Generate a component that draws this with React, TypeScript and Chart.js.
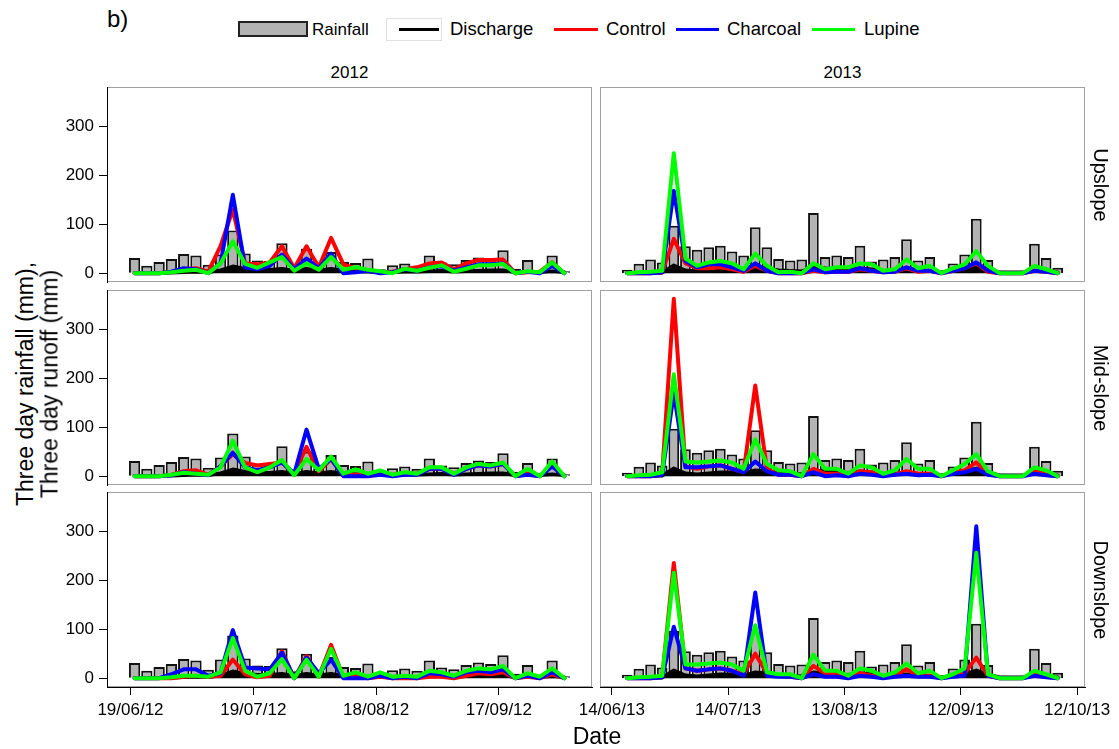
import React, { useEffect, useRef } from "react";
import { Chart, registerables } from "chart.js";
Chart.register(...registerables);

// ---------- data ----------
const dates2012 = [
  "2012-06-20", "2012-06-23", "2012-06-26", "2012-06-29", "2012-07-02", "2012-07-05", "2012-07-08", "2012-07-11",
  "2012-07-14", "2012-07-17", "2012-07-20", "2012-07-23", "2012-07-26", "2012-07-29", "2012-08-01", "2012-08-04",
  "2012-08-07", "2012-08-10", "2012-08-13", "2012-08-16", "2012-08-19", "2012-08-22", "2012-08-25", "2012-08-28",
  "2012-08-31", "2012-09-03", "2012-09-06", "2012-09-09", "2012-09-12", "2012-09-15", "2012-09-18", "2012-09-21",
  "2012-09-24", "2012-09-27", "2012-09-30", "2012-10-03",
];
const dates2013 = [
  "2013-06-18", "2013-06-21", "2013-06-24", "2013-06-27", "2013-06-30", "2013-07-03", "2013-07-06", "2013-07-09",
  "2013-07-12", "2013-07-15", "2013-07-18", "2013-07-21", "2013-07-24", "2013-07-27", "2013-07-30", "2013-08-02",
  "2013-08-05", "2013-08-08", "2013-08-11", "2013-08-14", "2013-08-17", "2013-08-20", "2013-08-23", "2013-08-26",
  "2013-08-29", "2013-09-01", "2013-09-04", "2013-09-07", "2013-09-10", "2013-09-13", "2013-09-16", "2013-09-19",
  "2013-09-22", "2013-09-25", "2013-09-28", "2013-10-01", "2013-10-04", "2013-10-07",
];

const rain2012 = [31, 15, 23, 29, 39, 36, 17, 38, 87, 40, 26, 25, 61, 14, 50, 16, 43, 23, 21, 30, 8, 16, 20, 15, 36, 22, 18, 27, 32, 29, 47, 9, 27, 6, 36, 4];
const rain2013 = [7, 19, 28, 22, 97, 55, 48, 53, 56, 44, 36, 94, 53, 29, 26, 28, 123, 33, 36, 33, 56, 24, 28, 33, 69, 26, 33, 5, 20, 38, 111, 27, 5, 4, 4, 60, 31, 11];

const discharge2012 = [0, 0, 0, 1, 2, 3, 2, 6, 14, 9, 7, 7, 9, 5, 9, 6, 9, 5, 4, 3, 2, 2, 3, 3, 4, 5, 3, 4, 5, 6, 6, 2, 2, 2, 4, 2];
const discharge2013 = [0, 0, 0, 1, 16, 6, 4, 6, 8, 8, 5, 12, 10, 6, 5, 4, 12, 10, 8, 7, 10, 8, 5, 5, 8, 5, 5, 2, 5, 8, 16, 8, 2, 2, 2, 5, 3, 2];

const control2012Up = [0, 0, 0, 3, 8, 10, 3, 55, 130, 20, 18, 22, 55, 10, 55, 12, 72, 18, 10, 5, 2, 3, 8, 12, 20, 22, 8, 20, 27, 27, 28, 0, 2, 3, 22, 0];
const charcoal2012Up = [0, 0, 0, 3, 10, 8, 0, 20, 160, 12, 8, 15, 38, 8, 30, 10, 40, 0, 2, 5, 0, 2, 8, 5, 12, 14, 5, 12, 18, 18, 20, 0, 3, 0, 15, 0];
const lupine2012Up = [0, 0, 0, 2, 5, 7, 0, 20, 65, 19, 11, 22, 33, 5, 20, 7, 33, 7, 12, 7, 4, 0, 9, 5, 11, 16, 3, 9, 16, 16, 19, 0, 4, 2, 22, 0];

const control2012Mid = [0, 0, 0, 3, 10, 12, 3, 20, 45, 27, 22, 25, 28, 5, 60, 10, 35, 2, 3, 3, 3, 3, 5, 5, 15, 15, 5, 15, 22, 20, 25, 0, 5, 0, 22, 0];
const charcoal2012Mid = [0, 0, 0, 2, 8, 5, 2, 20, 48, 18, 12, 18, 28, 5, 95, 15, 35, 0, 0, 0, 3, 0, 3, 3, 15, 15, 3, 15, 22, 20, 25, 0, 3, 0, 20, 0];
const lupine2012Mid = [0, 0, 0, 3, 7, 5, 3, 18, 72, 18, 8, 18, 33, 2, 35, 12, 40, 5, 14, 5, 12, 3, 8, 5, 18, 18, 5, 18, 25, 22, 28, 0, 15, 0, 30, 0];

const control2012Down = [0, 0, 0, 0, 3, 5, 3, 5, 38, 8, 2, 5, 55, 0, 45, 3, 68, 2, 5, 0, 3, 0, 0, 0, 3, 3, 0, 5, 10, 8, 12, 0, 3, 0, 8, 0];
const charcoal2012Down = [0, 0, 0, 8, 18, 18, 5, 10, 98, 22, 20, 18, 52, 0, 42, 10, 38, 0, 0, 0, 5, 0, 3, 0, 10, 8, 3, 12, 15, 12, 18, 0, 5, 0, 12, 0];
const lupine2012Down = [0, 0, 0, 2, 5, 5, 3, 12, 82, 15, 3, 10, 39, 0, 38, 3, 60, 5, 12, 3, 12, 3, 5, 3, 15, 12, 5, 15, 20, 18, 25, 0, 10, 3, 20, 0];

const control2013Up = [0, 0, 0, 2, 70, 20, 10, 10, 12, 8, 3, 15, 5, 0, 0, 0, 5, 2, 3, 3, 8, 5, 2, 3, 10, 3, 5, 0, 5, 10, 20, 3, 0, 0, 0, 5, 3, 0];
const charcoal2013Up = [0, 0, 0, 2, 168, 25, 12, 18, 18, 12, 5, 20, 5, 0, 0, 0, 8, 2, 3, 3, 10, 5, 2, 3, 12, 5, 5, 0, 5, 10, 22, 5, 0, 0, 0, 5, 3, 0];
const lupine2013Up = [0, 2, 3, 5, 245, 30, 15, 22, 25, 20, 8, 40, 15, 2, 3, 0, 20, 8, 12, 12, 20, 18, 5, 8, 28, 10, 15, 0, 10, 18, 45, 15, 0, 0, 0, 15, 8, 0];

const control2013Mid = [0, 0, 0, 5, 362, 20, 15, 20, 22, 15, 8, 185, 15, 3, 3, 0, 15, 5, 5, 0, 10, 8, 3, 3, 10, 5, 5, 0, 8, 12, 28, 5, 0, 0, 0, 10, 3, 0];
const charcoal2013Mid = [0, 0, 0, 3, 170, 18, 18, 20, 22, 15, 8, 30, 10, 3, 3, 0, 8, 0, 2, 0, 5, 3, 0, 3, 5, 2, 3, 0, 5, 8, 15, 3, 0, 0, 0, 5, 2, 0];
const lupine2013Mid = [0, 2, 3, 8, 208, 30, 28, 30, 32, 28, 15, 75, 25, 12, 10, 0, 45, 15, 15, 5, 22, 18, 5, 12, 35, 15, 15, 0, 12, 25, 45, 10, 0, 0, 0, 18, 12, 0];

const control2013Down = [0, 0, 0, 3, 235, 20, 15, 18, 20, 15, 8, 50, 10, 5, 3, 0, 25, 10, 8, 3, 10, 5, 3, 5, 18, 5, 5, 0, 5, 10, 42, 5, 0, 0, 0, 8, 3, 0];
const charcoal2013Down = [0, 0, 0, 2, 105, 20, 15, 18, 20, 15, 5, 175, 5, 3, 3, 0, 8, 3, 3, 0, 5, 3, 0, 3, 5, 3, 3, 0, 3, 5, 310, 5, 0, 0, 0, 5, 2, 0];
const lupine2013Down = [0, 2, 3, 5, 215, 28, 28, 30, 32, 28, 15, 108, 12, 8, 8, 0, 48, 15, 15, 5, 20, 15, 5, 12, 30, 10, 15, 0, 8, 20, 256, 8, 0, 0, 0, 15, 8, 0];

const tickDates2012 = ["2012-06-19", "2012-07-19", "2012-08-18", "2012-09-17"];
const tickLabels2012 = ["19/06/12", "19/07/12", "18/08/12", "17/09/12"];
const tickDates2013 = ["2013-06-14", "2013-07-14", "2013-08-13", "2013-09-12", "2013-10-12"];
const tickLabels2013 = ["14/06/13", "14/07/13", "13/08/13", "12/09/13", "12/10/13"];
const yTicks = [0, 100, 200, 300];
const yRange = [-18, 380];
const years = ["2012", "2013"];
const slopes = ["Upslope", "Mid-slope", "Downslope"];

// ---------- helpers ----------
const dayNum = (s: string) => {
  const [y, m, d] = s.split("-").map(Number);
  return Date.UTC(y, m - 1, d) / 86400000;
};

const YEAR_DATA = [
  {
    dates: dates2012, rain: rain2012, discharge: discharge2012,
    ticks: tickDates2012, labels: tickLabels2012,
    series: [
      [control2012Up, charcoal2012Up, lupine2012Up],
      [control2012Mid, charcoal2012Mid, lupine2012Mid],
      [control2012Down, charcoal2012Down, lupine2012Down],
    ],
  },
  {
    dates: dates2013, rain: rain2013, discharge: discharge2013,
    ticks: tickDates2013, labels: tickLabels2013,
    series: [
      [control2013Up, charcoal2013Up, lupine2013Up],
      [control2013Mid, charcoal2013Mid, lupine2013Mid],
      [control2013Down, charcoal2013Down, lupine2013Down],
    ],
  },
];

// layout (pixels)
const COL_L = [107, 600];
const PANEL_W = 485;
const ROW_T = [87, 290, 492];
const PANEL_H = 195;
const PADL = 60, PADR = 40, PADT = 4, PADB = 40;
const FONT = '"Liberation Sans", Arial, sans-serif';

const panelBorder = {
  id: "panelBorder",
  beforeDraw(chart: any) {
    const { ctx, chartArea: a } = chart;
    ctx.save();
    ctx.strokeStyle = "#A0A0A0";
    ctx.lineWidth = 1;
    ctx.strokeRect(Math.round(a.left) + 0.5, Math.round(a.top) + 0.5, Math.round(a.width) - 1, Math.round(a.height) - 1);
    ctx.restore();
  },
};

function Panel({ col, row }: { col: number; row: number }) {
  const ref = useRef<HTMLCanvasElement | null>(null);
  const hasY = col === 0;
  const hasX = row === 2;
  const W = PANEL_W + PADL + PADR;
  const H = PANEL_H + PADT + PADB;
  useEffect(() => {
    const yd = YEAR_DATA[col];
    const [control, charcoal, lupine] = yd.series[row];
    const pts = (vals: number[]) => yd.dates.map((d, i) => ({ x: dayNum(d), y: vals[i] }));
    const first = dayNum(yd.dates[0]);
    const last = dayNum(yd.dates[yd.dates.length - 1]);
    const span = last - first + 2.7;
    const xMin = first - 1.35 - span * 0.05;
    const xMax = last + 1.35 + span * 0.05;
    const tickVals = yd.ticks.map(dayNum);
    const line = (label: string, data: number[], color: string, order: number, width: number, fill: any = false) => ({
      type: "line" as const,
      label,
      data: pts(data),
      borderColor: color,
      backgroundColor: color,
      borderWidth: width,
      pointRadius: 0,
      tension: 0,
      order,
      fill,
      borderJoinStyle: "round" as const,
      borderCapStyle: "round" as const,
    });
    const chart = new Chart(ref.current as HTMLCanvasElement, {
      type: "bar",
      data: {
        datasets: [
          line("Lupine", lupine, "#00FF00", 0, 4),
          line("Charcoal", charcoal, "#0000FF", 1, 4),
          line("Control", control, "#FF0000", 2, 4),
          line("Discharge", yd.discharge, "#000000", 3, 3.5, "origin"),
          {
            type: "bar" as const,
            label: "Rainfall",
            data: pts(yd.rain),
            backgroundColor: "#B3B3B3",
            borderColor: "#111111",
            borderWidth: 2,
            barPercentage: 0.92,
            categoryPercentage: 1,
            order: 4,
          } as any,
        ],
      },
      options: {
        animation: false,
        responsive: false,
        maintainAspectRatio: false,
        events: [],
        layout: {
          padding: { left: hasY ? 0 : PADL, right: PADR, top: PADT, bottom: hasX ? 0 : PADB },
        },
        plugins: { legend: { display: false }, tooltip: { enabled: false } },
        scales: {
          x: {
            type: "linear",
            min: xMin,
            max: xMax,
            offset: false,
            display: hasX,
            grid: { offset: false, drawOnChartArea: false, drawTicks: true, tickLength: 8, color: "#000" },
            border: { display: true, color: "#000", width: 1 },
            ticks: {
              autoSkip: false,
              maxRotation: 0,
              minRotation: 0,
              padding: 5,
              color: "#000",
              font: { family: FONT, size: 17 },
              callback: (v: any) => {
                const i = tickVals.indexOf(Number(v));
                return i >= 0 ? yd.labels[i] : "";
              },
            },
            afterBuildTicks: (ax: any) => {
              ax.ticks = tickVals.map((v) => ({ value: v }));
            },
            afterFit: (ax: any) => {
              if (!hasX) return;
              ax.height = PADB;
              ax.paddingLeft = 0;
              ax.paddingRight = 0;
            },
          },
          y: {
            type: "linear",
            min: yRange[0],
            max: yRange[1],
            display: hasY,
            grid: { drawOnChartArea: false, drawTicks: true, tickLength: 8, color: "#000" },
            border: { display: true, color: "#000", width: 1 },
            ticks: {
              padding: 5,
              color: "#000",
              font: { family: FONT, size: 17 },
            },
            afterBuildTicks: (ax: any) => {
              ax.ticks = yTicks.map((v) => ({ value: v }));
            },
            afterFit: (ax: any) => {
              if (!hasY) return;
              ax.width = PADL;
              ax.paddingTop = 0;
              ax.paddingBottom = 0;
            },
          },
        },
      } as any,
      plugins: [panelBorder],
    });
    return () => chart.destroy();
  }, [col, row]);
  return (
    <canvas
      ref={ref}
      width={W}
      height={H}
      style={{ position: "absolute", left: COL_L[col] - PADL, top: ROW_T[row] - PADT, width: W, height: H }}
    />
  );
}

const T = (content: string, style: React.CSSProperties) => (
  <div
    style={{
      position: "absolute",
      whiteSpace: "nowrap",
      fontFamily: FONT,
      color: "#000",
      lineHeight: 1,
      ...style,
    }}
  >
    {content}
  </div>
);

export default function App() {
  const legendY = 29;
  return (
    <div style={{ position: "absolute", left: 0, top: 0, width: 1119, height: 749, background: "#fff", overflow: "hidden" }}>
      {[0, 1, 2].map((r) => [0, 1].map((c) => <Panel key={`${r}-${c}`} col={c} row={r} />))}

      {/* panel label */}
      {T("b)", { left: 107, top: 7, fontSize: 24 })}

      {/* legend */}
      <div style={{ position: "absolute", left: 238, top: 21, width: 66, height: 12, background: "#B3B3B3", border: "2px solid #222" }} />
      {T("Rainfall", { left: 312, top: legendY, fontSize: 17, transform: "translateY(-50%)" })}
      <div style={{ position: "absolute", left: 386, top: 18, width: 54, height: 21, border: "1px solid #E0E0E0" }} />
      <div style={{ position: "absolute", left: 399, top: legendY - 1, width: 40, height: 3, background: "#000" }} />
      {T("Discharge", { left: 450, top: legendY, fontSize: 18.5, transform: "translateY(-50%)" })}
      <div style={{ position: "absolute", left: 554, top: legendY - 1, width: 44, height: 3, background: "#FF0000" }} />
      {T("Control", { left: 606, top: legendY, fontSize: 18.5, transform: "translateY(-50%)" })}
      <div style={{ position: "absolute", left: 676, top: legendY - 1, width: 43, height: 3, background: "#0000FF" }} />
      {T("Charcoal", { left: 727, top: legendY, fontSize: 18.5, transform: "translateY(-50%)" })}
      <div style={{ position: "absolute", left: 812, top: legendY - 1, width: 43, height: 3, background: "#00FF00" }} />
      {T("Lupine", { left: 864, top: legendY, fontSize: 18.5, transform: "translateY(-50%)" })}

      {/* strip labels */}
      {years.map((y, c) =>
        <React.Fragment key={y}>{T(y, { left: COL_L[c] + PANEL_W / 2, top: 72, fontSize: 17, transform: "translate(-50%,-50%)" })}</React.Fragment>
      )}
      {slopes.map((s, r) =>
        <React.Fragment key={s}>{T(s, { left: 1101, top: ROW_T[r] + PANEL_H / 2, fontSize: 20, transform: "translate(-50%,-50%) rotate(90deg)" })}</React.Fragment>
      )}

      {/* axis titles */}
      {T("Three day rainfall (mm),", { left: 25, top: 384, fontSize: 23, transform: "translate(-50%,-50%) rotate(-90deg)" })}
      {T("Three day runoff (mm)", { left: 50, top: 384, fontSize: 23, transform: "translate(-50%,-50%) rotate(-90deg)" })}
      {T("Date", { left: 597, top: 736, fontSize: 23, transform: "translate(-50%,-50%)" })}
    </div>
  );
}
